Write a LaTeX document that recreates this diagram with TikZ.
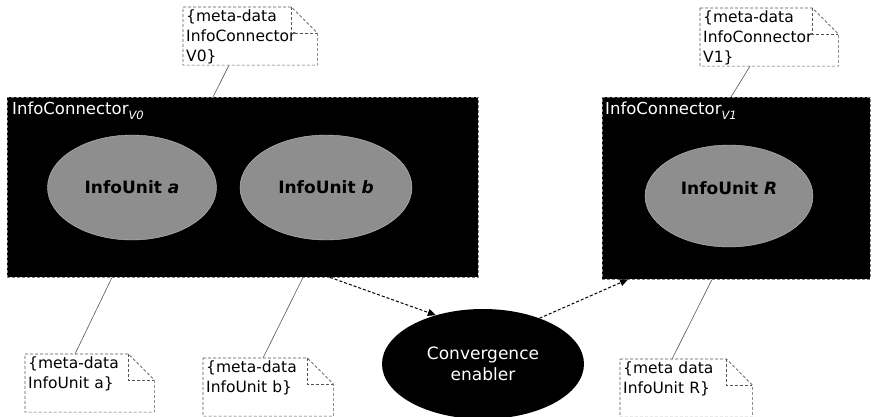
\documentclass[tikz,border=0pt]{standalone}
\usepackage{fontspec}
\setmainfont{DejaVu Sans}
\usepackage{tikz}
\usetikzlibrary{arrows.meta,positioning,shapes.geometric}
\definecolor{UnitGrey}{HTML}{8E8E8E}
\definecolor{NoteLine}{HTML}{555555}

% folded-corner outline around a note node
\newcommand\noteframe[1]{%
  \draw[noteline] (#1.north west) -- ([xshift=-26pt]#1.north east)
    -- ([yshift=-26pt]#1.north east) -- (#1.south east) -- (#1.south west) -- cycle;
  \draw[noteline] ([xshift=-26pt]#1.north east) |- ([yshift=-26pt]#1.north east);}

\begin{document}
\begin{tikzpicture}[
  x=1pt, y=-1pt,
  conn/.style={draw=gray, densely dashed, fill=black, anchor=north west, inner sep=0pt},
  conntitle/.style={text=white, inner sep=0pt, font=\fontsize{16.5}{18}\selectfont},
  unit/.style={ellipse, fill=UnitGrey, draw=white!75!black, inner sep=0pt,
    font=\bfseries\fontsize{17}{20}\selectfont},
  enabler/.style={ellipse, fill=black, text=white, align=center, inner sep=0pt,
    minimum width=202, minimum height=110, font=\fontsize{17}{20.5}\selectfont},
  note/.style={anchor=north west, inner sep=3pt, text width=#1, text depth=40pt,
    align=left, font=\fontsize{15.5}{20}\selectfont},
  noteline/.style={draw=NoteLine, densely dashed, line width=0.6pt},
  link/.style={draw=NoteLine, line width=0.6pt},
  flow/.style={densely dashed, line width=1pt, -{Triangle[length=8pt,width=7pt]}}
]
  \useasboundingbox (0,0) rectangle (872,416);

  % connectors and their units
  \node[conn, minimum width=471, minimum height=180] (c0) at (7,97) {};
  \node[conn, minimum width=268, minimum height=182] (c1) at (602,97) {};
  \node[conntitle, below right=5pt and 5pt of c0.north west] (t0)
    {InfoConnector\raisebox{-5pt}{\fontsize{11.5}{11.5}\selectfont\itshape V0}};
  \node[conntitle, below right=5pt and 3pt of c1.north west] (t1)
    {InfoConnector\raisebox{-5pt}{\fontsize{11.5}{11.5}\selectfont\itshape V1}};

  \node[unit, minimum width=169, minimum height=105] (ua) at (132,187.5) {InfoUnit \textit{a}};
  \node[unit, minimum width=172, minimum height=105] (ub) at (326,187.5) {InfoUnit \textit{b}};
  \node[unit, minimum width=168, minimum height=102] (uR) at (729,196) {};
  \node[inner sep=0pt, font=\bfseries\fontsize{17}{20}\selectfont] (tR)
    at ([yshift=8pt]uR.center) {InfoUnit \textit{R}};

  \node[enabler] (ce) at (483,364) {Convergence\\enabler};

  % meta-data notes
  \node[note=128pt] (nV0) at (183,7) {\{meta-data\\InfoConnector\\V0\}};
  \node[note=132pt] (nV1) at (700,8) {\{meta-data\\InfoConnector\\V1\}};
  \node[note=123pt] (na) at (25,354) {\{meta-data\\InfoUnit a\}};
  \node[note=124pt] (nb) at (203,358) {\{meta-data\\InfoUnit b\}};
  \node[note=126pt] (nR) at (620,359) {\{meta data\\InfoUnit R\}};
  \foreach \n in {nV0,nV1,na,nb,nR} {\noteframe{\n}}

  \draw[link] ([xshift=46pt]nV0.south west) -- ([xshift=206pt]c0.north west);
  \draw[link] ([xshift=50pt]nV1.south west) -- ([xshift=129pt]c1.north west);
  \draw[link] ([xshift=50pt]na.north west) -- ([xshift=105pt]c0.south west);
  \draw[link] ([xshift=60pt]nb.north west) -- ([xshift=296pt]c0.south west);
  \draw[link] ([xshift=52pt]nR.north west) -- ([xshift=110pt]c1.south west);

  % flow through the enabler
  \draw[flow] ([xshift=323pt]c0.south west) -- (ce.134);
  \draw[flow] (ce.39) -- ([xshift=26pt]c1.south west);
\end{tikzpicture}
\end{document}
